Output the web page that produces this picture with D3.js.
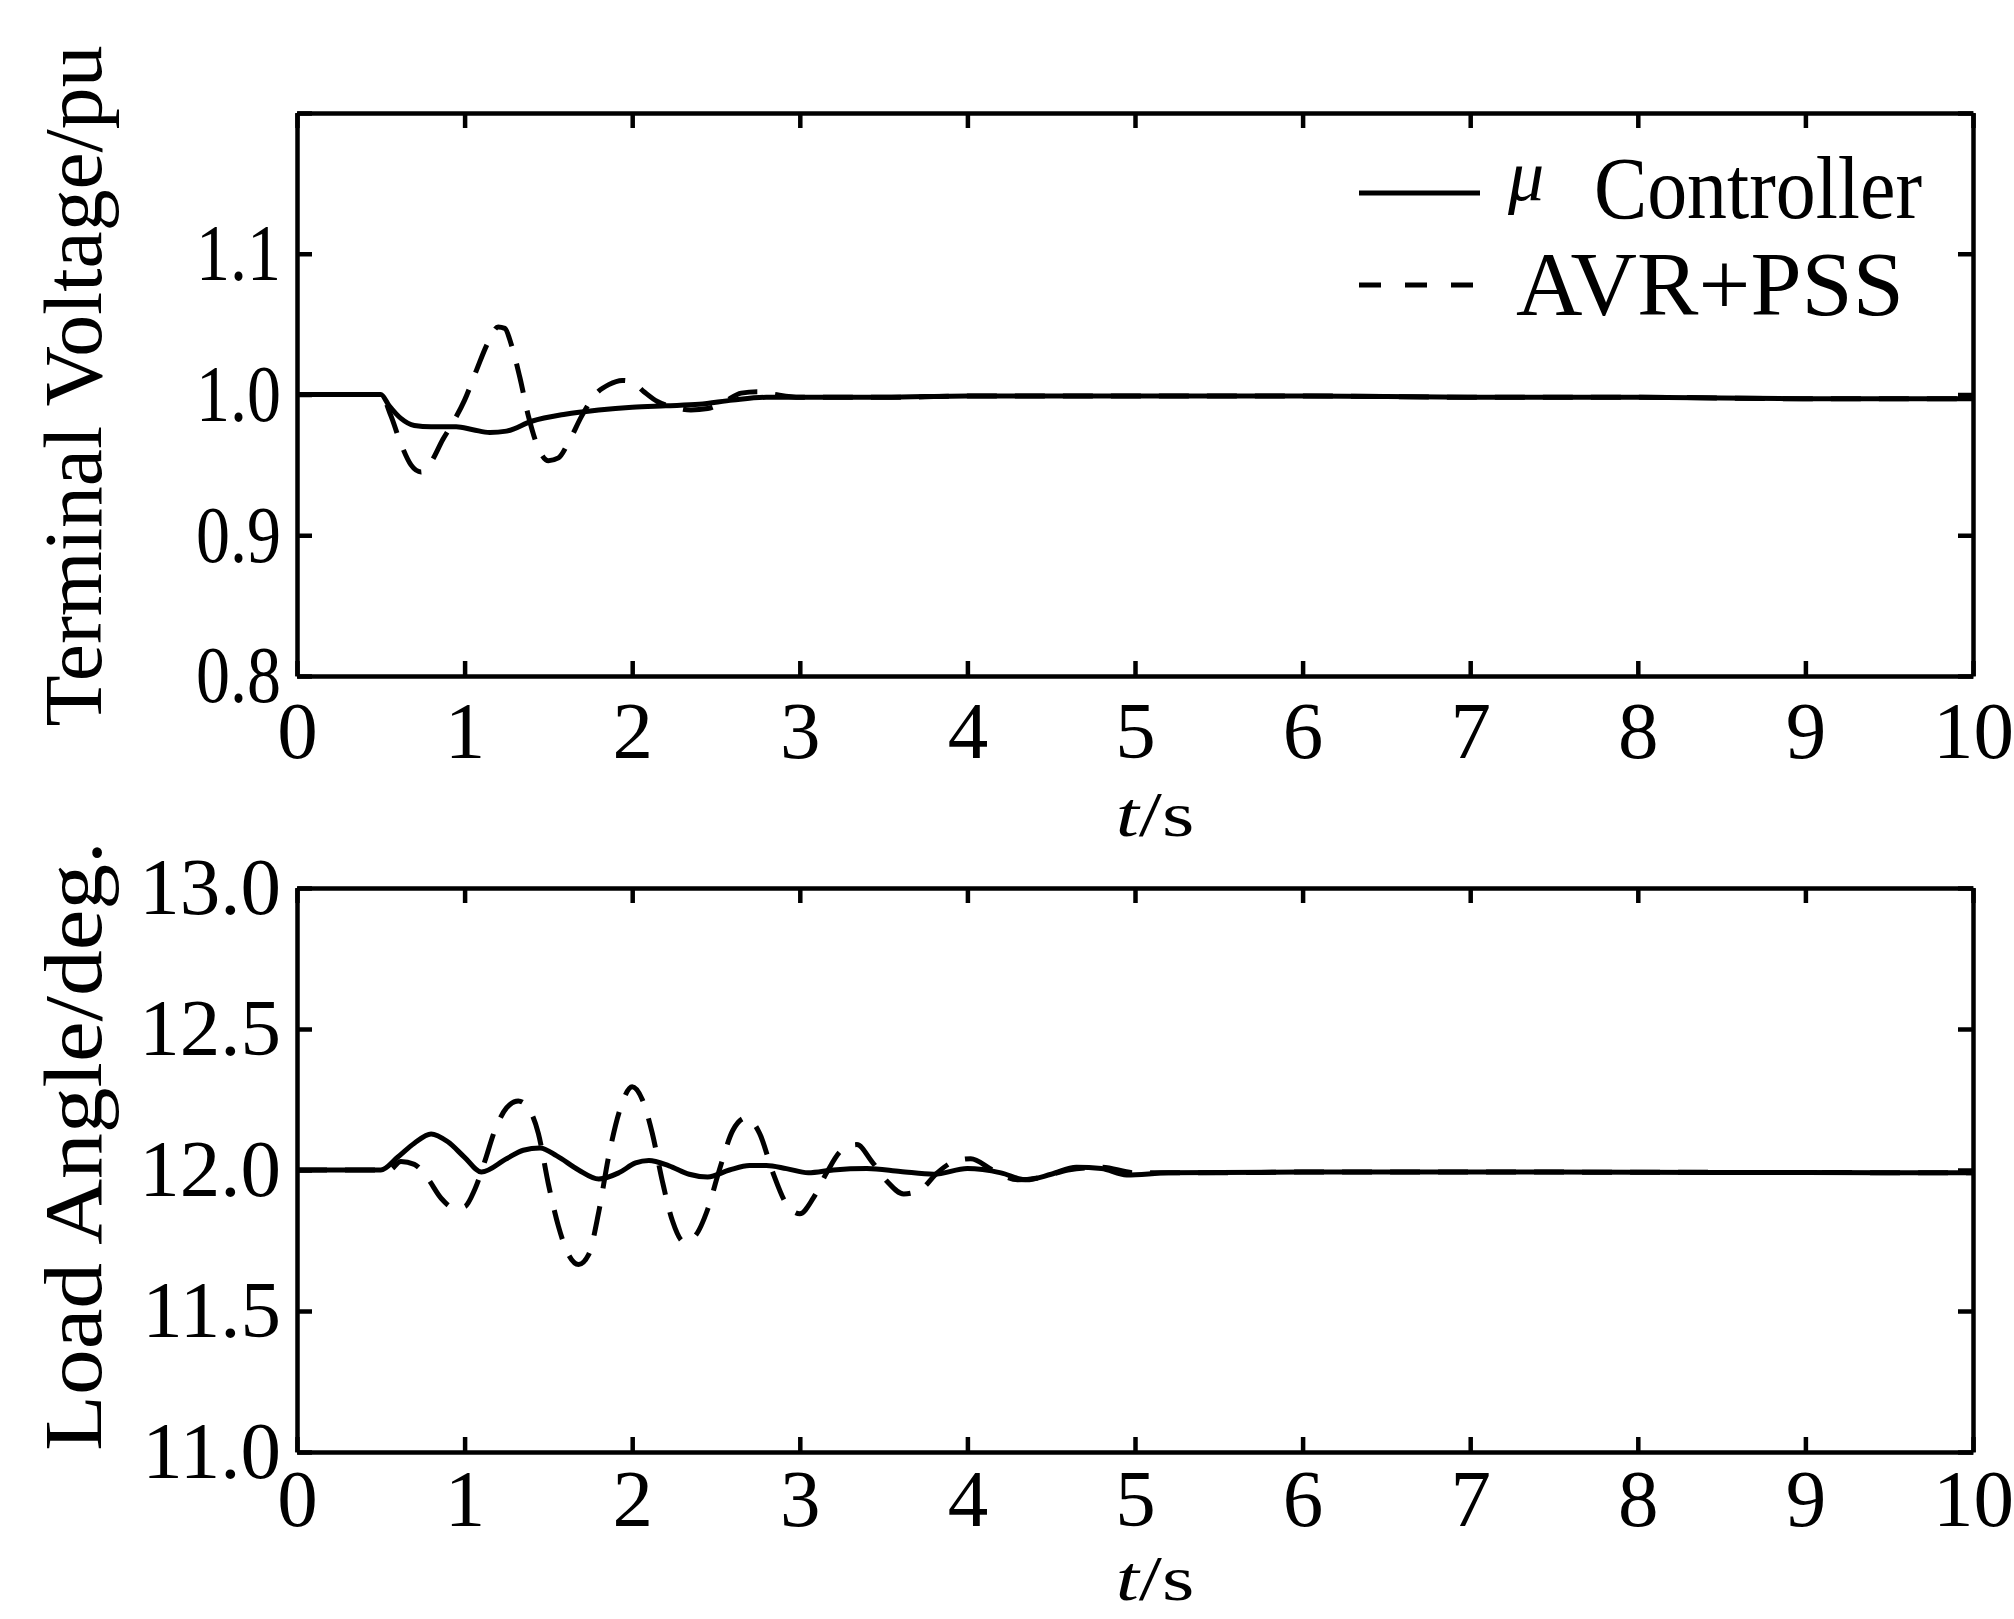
<!DOCTYPE html>
<html>
<head>
<meta charset="utf-8">
<script src="https://d3js.org/d3.v7.min.js"></script>
<style>
  body { margin: 0; background: #fff; }
  text { font-family: "Liberation Serif", "Times New Roman", serif; fill: #000; }
</style>
</head>
<body>
<svg id="chart" width="2014" height="1619"></svg>
<script>
// x axis ticks (seconds)
const timeTicks = [0, 1, 2, 3, 4, 5, 6, 7, 8, 9, 10];
const voltTicks = [0.8, 0.9, 1.0, 1.1, 1.2];
const angleTicks = [11.0, 11.5, 12.0, 12.5, 13.0];

// Terminal voltage, mu controller (solid)
const voltMuT = [0, 0.5, 0.55, 0.62, 0.7, 0.8, 0.95, 1.05, 1.15, 1.25, 1.4, 1.6, 1.8, 2.0, 2.2, 2.4, 2.6, 2.8, 3.0, 3.5, 4, 5, 6, 7, 8, 9, 10];
const voltMu = [1.0, 1.0, 0.992, 0.983, 0.978, 0.977, 0.977, 0.975, 0.973, 0.974, 0.981, 0.986, 0.989, 0.991, 0.992, 0.993, 0.996, 0.998, 0.998, 0.998, 0.999, 0.999, 0.999, 0.998, 0.998, 0.997, 0.997];

// Terminal voltage, AVR+PSS (dashed)
const voltPssT = [0, 0.5, 0.56, 0.62, 0.68, 0.74, 0.8, 0.87, 0.93, 1.0, 1.07, 1.14, 1.2, 1.24, 1.28, 1.33, 1.38, 1.43, 1.5, 1.56, 1.62, 1.7, 1.78, 1.86, 1.94, 2.0, 2.07, 2.15, 2.25, 2.35, 2.45, 2.55, 2.65, 2.75, 2.85, 3.0, 3.3, 3.6, 4, 5, 6, 7, 8, 9, 10];
const voltPss = [1.0, 1.0, 0.985, 0.965, 0.950, 0.945, 0.952, 0.968, 0.980, 0.996, 1.017, 1.037, 1.048, 1.047, 1.035, 1.012, 0.985, 0.965, 0.953, 0.955, 0.966, 0.985, 1.0, 1.007, 1.010, 1.009, 1.002, 0.995, 0.991, 0.989, 0.990, 0.995, 1.001, 1.002, 1.0, 0.998, 0.998, 0.998, 0.999, 0.999, 0.999, 0.998, 0.998, 0.997, 0.997];

// Load angle, mu controller (solid)
const angleMuT = [0, 0.5, 0.6, 0.7, 0.8, 0.9, 1.0, 1.1, 1.25, 1.35, 1.45, 1.55, 1.68, 1.8, 1.92, 2.02, 2.1, 2.22, 2.34, 2.45, 2.58, 2.7, 2.8, 2.92, 3.05, 3.2, 3.4, 3.6, 3.8, 4.0, 4.2, 4.35, 4.5, 4.65, 4.8, 4.95, 5.2, 6, 7, 8, 9, 10];
const angleMu = [12.0, 12.0, 12.045, 12.095, 12.128, 12.1, 12.045, 11.993, 12.04, 12.07, 12.078, 12.05, 12.0, 11.968, 11.99, 12.025, 12.034, 12.015, 11.985, 11.975, 12.0, 12.016, 12.016, 12.005, 11.99, 12.0, 12.005, 11.995, 11.985, 12.005, 11.99, 11.965, 11.985, 12.01, 12.005, 11.982, 11.99, 11.993, 11.993, 11.992, 11.991, 11.99];

// Load angle, AVR+PSS (dashed)
const anglePssT = [0, 0.55, 0.62, 0.7, 0.78, 0.86, 0.94, 1.0, 1.06, 1.12, 1.18, 1.25, 1.32, 1.38, 1.44, 1.5, 1.56, 1.62, 1.68, 1.74, 1.8, 1.86, 1.93, 2.0, 2.06, 2.12, 2.18, 2.24, 2.31, 2.38, 2.45, 2.52, 2.6, 2.68, 2.76, 2.84, 2.92, 3.0, 3.08, 3.16, 3.25, 3.34, 3.43, 3.52, 3.62, 3.72, 3.82, 3.92, 4.02, 4.15, 4.3, 4.45, 4.6, 4.8, 5.0, 5.5, 6, 7, 8, 9, 10];
const anglePss = [12.0, 12.0, 12.03, 12.02, 11.97, 11.9, 11.865, 11.87, 11.93, 12.03, 12.14, 12.22, 12.245, 12.22, 12.13, 11.95, 11.8, 11.7, 11.665, 11.7, 11.85, 12.05, 12.22, 12.295, 12.25, 12.13, 11.96, 11.82, 11.745, 11.77, 11.86, 12.0, 12.14, 12.185, 12.13, 11.99, 11.88, 11.845, 11.9, 11.99, 12.07, 12.09, 12.03, 11.96, 11.915, 11.93, 11.99, 12.03, 12.04, 12.0, 11.965, 11.975, 12.0, 12.01, 11.99, 11.99, 11.993, 11.993, 11.992, 11.991, 11.99];

const svg = d3.select("#chart");

const x = d3.scaleLinear().domain([0, 10]).range([297, 1973]);
const yV = d3.scaleLinear().domain([0.8, 1.2]).range([676, 113]);
const yA = d3.scaleLinear().domain([11, 13]).range([1452, 888]);

const TICK = 15;
const AXIS_W = 4.5;
const LINE_W = 5;

function styleAxis(sel) {
    sel.selectAll("path.domain").attr("stroke-width", AXIS_W).attr("stroke", "#000");
    sel.selectAll(".tick line").attr("stroke-width", AXIS_W).attr("stroke", "#000");
    sel.selectAll(".tick text").attr("font-size", 81).attr("fill", "#000")
        .style("font-family", "Liberation Serif, serif");
}

// draw one panel: frame with inward ticks on all four sides
function drawPanel(y, yTicks, yFormat, labelSqueeze, xPad) {
    const [y0, y1] = y.range();
    const g = svg.append("g");

    g.append("g").attr("transform", `translate(0,${y0})`)
        .call(d3.axisBottom(x).tickValues(timeTicks).tickSize(-TICK).tickSizeOuter(0).tickPadding(xPad).tickFormat(d3.format("d")))
        .call(styleAxis);
    g.append("g").attr("transform", `translate(0,${y1})`)
        .call(d3.axisTop(x).tickValues(timeTicks).tickSize(-TICK).tickSizeOuter(0).tickFormat(""))
        .call(styleAxis);
    const left = g.append("g").attr("transform", `translate(${x(0)},0)`)
        .call(d3.axisLeft(y).tickValues(yTicks).tickSize(-TICK).tickSizeOuter(0).tickFormat(yFormat))
        .call(styleAxis);
    left.selectAll(".tick text")
        .attr("x", 0)
        .attr("transform", `translate(-16,0) scale(${labelSqueeze},1)`);
    g.append("g").attr("transform", `translate(${x(10)},0)`)
        .call(d3.axisRight(y).tickValues(yTicks).tickSize(-TICK).tickSizeOuter(0).tickFormat(""))
        .call(styleAxis);
    return g;
}

function drawSeries(ts, vs, y, dashed) {
    const pts = ts.map((t, i) => [t, vs[i]]);
    const line = d3.line()
        .x(d => x(d[0]))
        .y(d => y(d[1]))
        .curve(d3.curveMonotoneX);
    svg.append("path")
        .datum(pts)
        .attr("fill", "none")
        .attr("stroke", "#000")
        .attr("stroke-width", LINE_W)
        .attr("stroke-linejoin", "round")
        .attr("stroke-dasharray", dashed ? "30,18" : null)
        .attr("d", line);
}

drawPanel(yV, voltTicks, d => d >= 1.15 ? "" : d3.format(".1f")(d), 0.84, 24);
drawPanel(yA, angleTicks, d3.format(".1f"), 1.0, 16);

drawSeries(voltPssT, voltPss, yV, true);
drawSeries(voltMuT, voltMu, yV, false);
drawSeries(anglePssT, anglePss, yA, true);
drawSeries(angleMuT, angleMu, yA, false);

// axis titles
function yTitle(label, cy, len) {
    svg.append("text")
        .attr("transform", `translate(101,${cy}) rotate(-90)`)
        .attr("text-anchor", "middle")
        .attr("font-size", 82)
        .attr("textLength", len)
        .attr("lengthAdjust", "spacingAndGlyphs")
        .text(label);
}
yTitle("Terminal Voltage/pu", 386, 681);
yTitle("Load Angle/deg.", 1146, 610);

function xTitle(baseY) {
    const t = svg.append("text")
        .attr("transform", `translate(1155,${baseY}) scale(1.3,1)`)
        .attr("text-anchor", "middle")
        .attr("font-size", 64);
    t.append("tspan").attr("font-style", "italic").text("t");
    t.append("tspan").text("/s");
}
xTitle(836);
xTitle(1600);

// legend
const legend = svg.append("g");
legend.append("line")
    .attr("x1", 1359).attr("x2", 1480).attr("y1", 193).attr("y2", 193)
    .attr("stroke", "#000").attr("stroke-width", LINE_W);
legend.append("line")
    .attr("x1", 1359).attr("x2", 1474).attr("y1", 285).attr("y2", 285)
    .attr("stroke", "#000").attr("stroke-width", LINE_W)
    .attr("stroke-dasharray", "22,24");
legend.append("text")
    .attr("x", 1508).attr("y", 200)
    .attr("font-size", 72).attr("font-style", "italic")
    .text("μ");
legend.append("text")
    .attr("x", 1594).attr("y", 218)
    .attr("font-size", 88)
    .attr("textLength", 328).attr("lengthAdjust", "spacingAndGlyphs")
    .text("Controller");
legend.append("text")
    .attr("x", 1516).attr("y", 315)
    .attr("font-size", 90)
    .attr("textLength", 388).attr("lengthAdjust", "spacingAndGlyphs")
    .text("AVR+PSS");
</script>
</body>
</html>
